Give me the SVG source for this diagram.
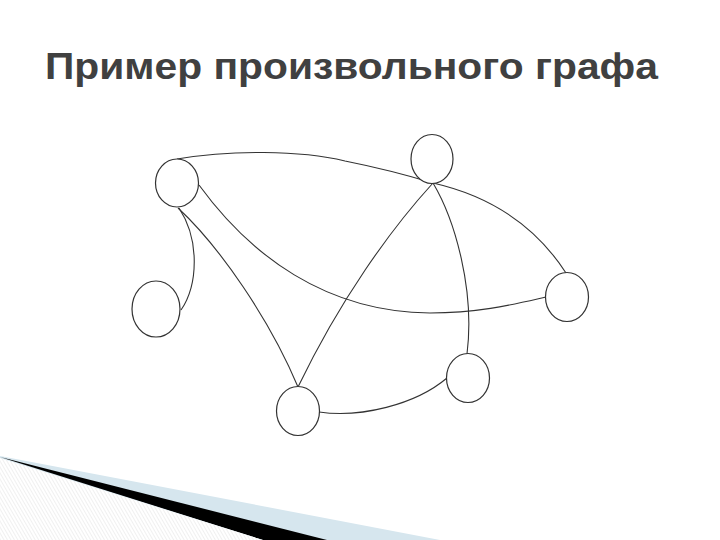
<svg xmlns="http://www.w3.org/2000/svg" width="720" height="540" viewBox="0 0 720 540">
  <defs>
    <pattern id="hatch" width="3" height="3" patternUnits="userSpaceOnUse" patternTransform="rotate(-30)">
      <rect width="3" height="3" fill="#ffffff"/>
      <line x1="0" y1="0" x2="0" y2="3" stroke="#dadada" stroke-width="0.8"/>
    </pattern>
  </defs>
  <style>
    .node { fill: #ffffff; stroke: #333333; stroke-width: 1.2; }
    .edge { fill: none; stroke: #333333; stroke-width: 1.1; }
    .title { font-family: "Liberation Sans", Arial, sans-serif; font-weight: bold; font-size: 36px; fill: #404040; }
  </style>
  <rect width="720" height="540" fill="#ffffff"/>

  <!-- bottom-left decoration -->
  <polygon points="0,456 440,540 0,540" fill="#d6e6ee"/>
  <polygon points="0,457 327,540 263,540" fill="#000000"/>
  <polygon points="0,458 263,540 0,540" fill="url(#hatch)"/>

  <text class="title" x="45" y="79" textLength="613" lengthAdjust="spacingAndGlyphs">Пример произвольного графа</text>

  <g id="connectors">
    <path class="edge" d="M177,159 C230,150 300,150 345,161 C380,168 410,176 433,183"/>
    <path class="edge" d="M433,183 C490,196 535,225 566,273"/>
    <path class="edge" d="M199,185 C250,255 325,312 430,313 C480,313 515,304 546,297"/>
    <path class="edge" d="M178,208 C220,247 270,320 298,387"/>
    <path class="edge" d="M179,208 C200,240 198,285 181,310"/>
    <path class="edge" d="M433,183 C390,230 340,300 298,387"/>
    <path class="edge" d="M433,183 C455,220 475,290 467,354"/>
    <path class="edge" d="M319,412 C360,418 415,405 447,378"/>
  </g>

  <g id="node-a"><ellipse class="node" cx="177" cy="183" rx="21.5" ry="24"/></g>
  <g id="node-b"><ellipse class="node" cx="432" cy="159" rx="21" ry="24.5"/></g>
  <g id="node-c"><ellipse class="node" cx="156" cy="309" rx="24" ry="28"/></g>
  <g id="node-d"><ellipse class="node" cx="567" cy="297" rx="21.5" ry="24.5"/></g>
  <g id="node-e"><ellipse class="node" cx="468" cy="378" rx="21.5" ry="24.5"/></g>
  <g id="node-f"><ellipse class="node" cx="298" cy="411" rx="21.5" ry="24.5"/></g>
</svg>
